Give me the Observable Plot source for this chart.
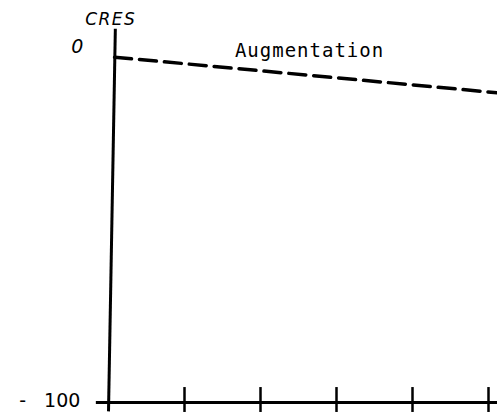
<!DOCTYPE html>
<html>
<head>
<meta charset="utf-8">
<script src="https://cdn.jsdelivr.net/npm/d3@7"></script>
<script src="https://cdn.jsdelivr.net/npm/@observablehq/plot@0.6"></script>
<style>
  html, body { margin: 0; padding: 0; background: #fff; }
  svg { overflow: visible; }
</style>
</head>
<body>
<div id="chart"></div>
<script>
// Data
const xTicks = [0, 1, 2, 3, 4, 5];
const yTickValues = [0, -100];
const yTickLabels = ["0", "- 100"];
const seriesName = "Augmentation";
const augX = [0.08, 5.12];
const augY = [-3, -13];
const yAxisTitle = "CRES";

const augData = augX.map((x, i) => ({x, y: augY[i]}));
const yLabelData = yTickValues.map((v, i) => ({y: v, label: yTickLabels[i], italic: i === 0}));

const spaced = (px) => (index, scales, values, dims, context, next) => {
  const g = next(index, scales, values, dims, context);
  g.setAttribute("letter-spacing", px);
  return g;
};

const chart = Plot.plot({
  width: 497,
  height: 415,
  margin: 0,
  style: {wordSpacing: "12px"},
  x: {domain: [0, 5], range: [108, 488], axis: null},
  y: {domain: [-100, 0], range: [402, 46], axis: null},
  marks: [
    // bottom axis line
    Plot.ruleY([-100], {x1: -0.16, x2: 5.12, stroke: "black", strokeWidth: 3}),
    // bottom ticks
    Plot.ruleX(xTicks.slice(1), {y1: -95.8, y2: -102.8, stroke: "black", strokeWidth: 2.5}),
    // vertical axis (slightly tilted, as drawn)
    Plot.link([{x1: 0.0, y1: -102.5, x2: 0.09, y2: 5}], {x1: "x1", y1: "y1", x2: "x2", y2: "y2", stroke: "black", strokeWidth: 3}),
    // dashed series line
    Plot.line(augData, {x: "x", y: "y", stroke: "black", strokeWidth: 3.5, strokeDasharray: "17,8"}),
    // series label
    Plot.text([seriesName], {x: 2.645, y: -1.1, text: d => d, fontFamily: "DejaVu Sans Mono", fontSize: 19, fill: "black", textAnchor: "middle", render: spaced(1)}),
    // y tick labels
    Plot.text(yLabelData.filter(d => d.italic), {x: -0.33, y: "y", text: "label", fontFamily: "DejaVu Sans", fontStyle: "italic", fontSize: 19, textAnchor: "end", dy: 0}),
    Plot.text(yLabelData.filter(d => !d.italic), {x: -0.37, y: "y", text: "label", fontFamily: "DejaVu Sans", fontSize: 19, textAnchor: "end", dy: -2}),
    // axis title
    Plot.text([yAxisTitle], {x: 0.03, y: 7.7, text: d => d, fontFamily: "DejaVu Sans", fontStyle: "italic", fontSize: 17, textAnchor: "middle", render: spaced(1.5)})
  ]
});
document.getElementById("chart").appendChild(chart);
</script>
</body>
</html>
